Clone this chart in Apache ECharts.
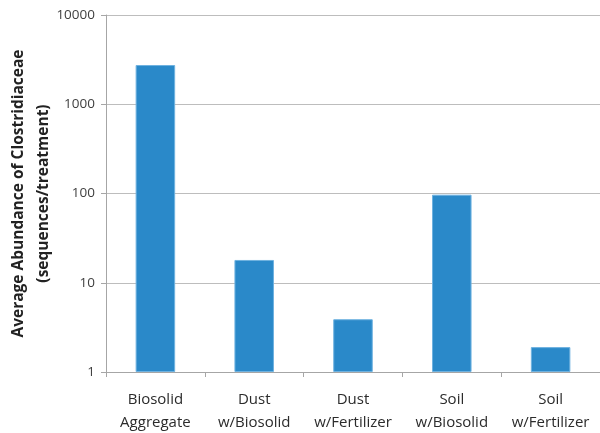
<!DOCTYPE html>
<html>
<head>
<meta charset="utf-8">
<script src="https://cdn.jsdelivr.net/npm/echarts@6/dist/echarts.min.js"></script>
<style>
  html, body { margin: 0; padding: 0; background: #fff; }
  #chart { width: 600px; height: 433px; }
</style>
</head>
<body>
<div id="chart"></div>
<script>
// categories and values
const categories = ['Biosolid\nAggregate', 'Dust\nw/Biosolid', 'Dust\nw/Fertilizer', 'Soil\nw/Biosolid', 'Soil\nw/Fertilizer']
const abundance = [2750, 18, 3.9, 97, 1.9]
const yTitle = 'Average Abundance of Clostridiaceae\n(sequences/treatment)'

const chart = echarts.init(document.getElementById('chart'))

chart.setOption({
  animation: false,
  grid: {
    left: 106,
    right: 0,
    top: 15,
    bottom: 61,
    outerBoundsMode: 'none',
    containLabel: false
  },
  xAxis: {
    type: 'category',
    data: categories,
    axisLine: { lineStyle: { color: '#a6a6a6', width: 1 } },
    axisTick: { show: true, alignWithLabel: false, length: 5, lineStyle: { color: '#a6a6a6' } },
    axisLabel: {
      color: '#2b2b2b',
      fontSize: 15,
      fontFamily: 'Open Sans',
      lineHeight: 23,
      margin: 16,
      interval: 0
    }
  },
  yAxis: {
    type: 'log',
    logBase: 10,
    min: 1,
    max: 10000,
    name: yTitle,
    nameLocation: 'middle',
    nameGap: 50,
    nameMoveOverlap: false,
    nameTextStyle: {
      color: '#222',
      fontSize: 15.5,
      fontWeight: 'bold',
      fontFamily: 'Open Sans',
      lineHeight: 25
    },
    axisLine: { show: true, lineStyle: { color: '#a6a6a6' } },
    axisTick: { show: true, inside: false, length: 5, lineStyle: { color: '#a6a6a6' } },
    axisLabel: {
      color: '#404040',
      fontSize: 13.5,
      fontFamily: 'Open Sans',
      margin: 11,
      formatter: v => String(Math.round(v))
    },
    splitLine: { lineStyle: { color: '#bdbdbd', width: 1 } }
  },
  series: [
    {
      type: 'bar',
      data: abundance,
      barWidth: '40%',
      itemStyle: {
        color: '#2a89c9',
        borderColor: '#6fb2e0',
        borderWidth: 1
      }
    }
  ]
})
</script>
</body>
</html>
